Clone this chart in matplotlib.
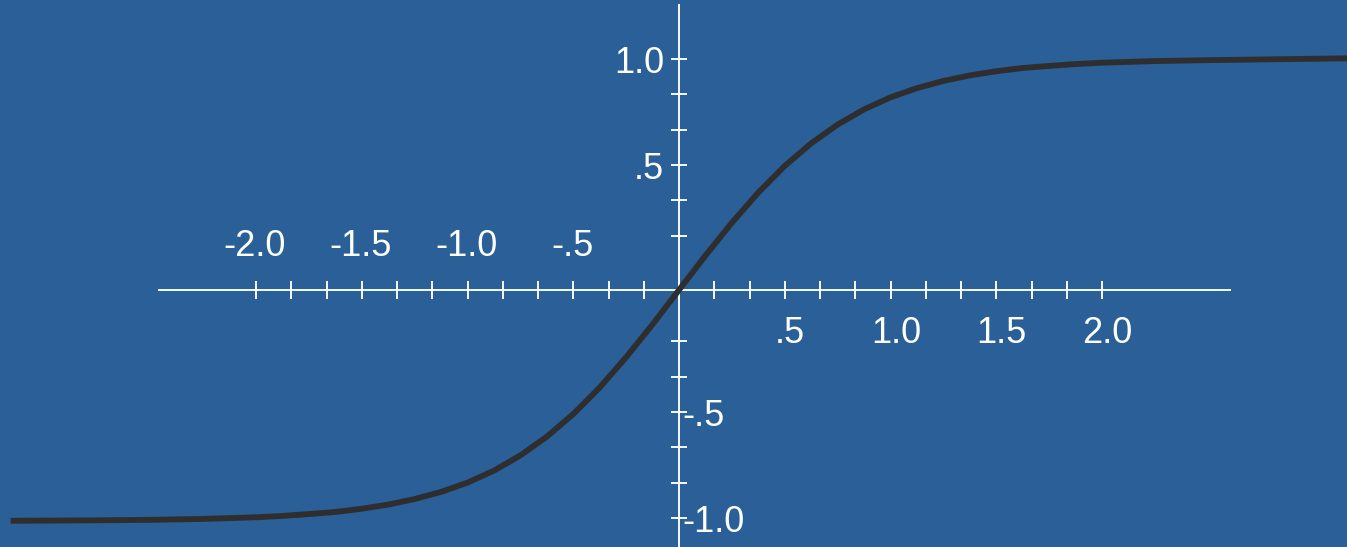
import matplotlib
matplotlib.use("Agg")
import matplotlib.pyplot as plt

# Curve samples (x, y)
curve_x = [-3.16, -2.75, -2.5, -2.25, -2.0, -1.875, -1.75, -1.625, -1.5, -1.375, -1.25, -1.125,
           -1.0, -0.875, -0.75, -0.625, -0.5, -0.375, -0.25, -0.125,
           0.0, 0.125, 0.25, 0.375, 0.5, 0.625, 0.75, 0.875, 1.0, 1.125, 1.25, 1.375,
           1.5, 1.625, 1.75, 1.875, 2.0, 2.25, 2.5, 2.75, 3.16]
curve_y = [-0.999, -0.997, -0.995, -0.991, -0.984, -0.978, -0.970, -0.961, -0.947, -0.929, -0.905, -0.874,
           -0.834, -0.782, -0.716, -0.635, -0.537, -0.422, -0.291, -0.149,
           0.0, 0.149, 0.291, 0.422, 0.537, 0.635, 0.716, 0.782, 0.834, 0.874, 0.905, 0.929,
           0.947, 0.961, 0.970, 0.978, 0.984, 0.991, 0.995, 0.998, 1.003]

# Horizontal axis: minor ticks every sixth of a unit, labels every half unit
x_tick_step = 1 / 6
x_tick_count = 12
x_left_labels = ["-2.0", "-1.5", "-1.0", "-.5"]
x_left_label_pos = [-2.0, -1.5, -1.0, -0.5]
x_right_labels = [".5", "1.0", "1.5", "2.0"]
x_right_label_pos = [0.5, 1.0, 1.5, 2.0]

# Vertical axis ticks (upper and lower halves)
y_ticks_upper = [1.0, 0.847, 0.694, 0.541, 0.388, 0.235]
y_ticks_lower = [-0.222, -0.375, -0.528, -0.681, -0.834, -0.987]
y_upper_labels = ["1.0", ".5"]
y_upper_label_pos = [1.0, 0.541]
y_lower_labels = ["-.5", "-1.0"]
y_lower_label_pos = [-0.528, -0.987]

W, H = 1347, 547
X0, Y0 = 679, 290          # pixel position of the origin
SX, SY = 211.5, 231.0      # pixels per unit

BG = "#2A5F97"
FG = "white"
CURVE = "#2E2E2E"

fig = plt.figure(figsize=(W / 100, H / 100), dpi=100, facecolor=BG)
ax = fig.add_axes([0, 0, 1, 1])
ax.set_facecolor(BG)
ax.set_xlim((0 - X0) / SX, (W - X0) / SX)
ax.set_ylim(-(H - Y0) / SY, Y0 / SY)
ax.axis("off")

lw_axis = 1.35
# axes lines
ax.plot([(158 - X0) / SX, (1231 - X0) / SX], [0, 0], color=FG, lw=lw_axis, solid_capstyle="butt", zorder=2)
ax.plot([0, 0], [(Y0 - 4) / SY, -(H - Y0) / SY], color=FG, lw=lw_axis, solid_capstyle="butt", zorder=2)

# x ticks
tx = [k * x_tick_step for k in range(-x_tick_count, x_tick_count + 1) if k != 0]
tlen_y = 9 / SY
ax.vlines(tx, -tlen_y, tlen_y, color=FG, lw=lw_axis, zorder=2)

# y ticks
tlen_x = 8.3 / SX
ax.hlines(y_ticks_upper + y_ticks_lower, -tlen_x, tlen_x, color=FG, lw=lw_axis, zorder=2)

font = dict(family=["Liberation Sans", "DejaVu Sans"], size=26, color=FG)
px = 0.72  # points per pixel

for lab, pos in zip(x_left_labels, x_left_label_pos):
    ax.annotate(lab, (pos, 0), xytext=(-1 * px, 33.5 * px), textcoords="offset points",
                ha="center", va="baseline", **font)
for lab, pos in zip(x_right_labels, x_right_label_pos):
    ax.annotate(lab, (pos, 0), xytext=(5.5 * px, -53.3 * px), textcoords="offset points",
                ha="center", va="baseline", **font)
for lab, pos in zip(y_upper_labels, y_upper_label_pos):
    ax.annotate(lab, (0, pos), xytext=(-15 * px, -13.8 * px), textcoords="offset points",
                ha="right", va="baseline", **font)
for lab, pos in zip(y_lower_labels, y_lower_label_pos):
    ax.annotate(lab, (0, pos), xytext=(3.5 * px, -13.8 * px), textcoords="offset points",
                ha="left", va="baseline", **font)

# the curve
ax.plot(curve_x, curve_y, color=CURVE, lw=4.2, solid_capstyle="butt", solid_joinstyle="round", zorder=3)

fig.savefig("out.png", dpi=100, facecolor=BG)
